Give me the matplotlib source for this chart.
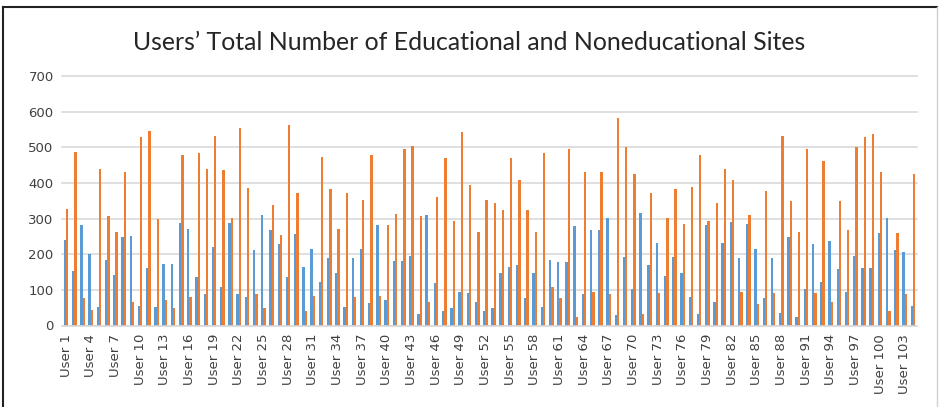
import numpy as np
import matplotlib
matplotlib.use('Agg')
import matplotlib.pyplot as plt
from matplotlib.lines import Line2D

# Educational (blue) and noneducational (orange) sites per user
educational = [240, 154, 282, 201, 51, 184, 142, 248, 251, 56,
               161, 51, 173, 173, 287, 270, 137, 88, 220, 107,
               287, 88, 79, 212, 309, 267, 228, 135, 256, 165,
               216, 122, 189, 146, 52, 189, 216, 64, 282, 72,
               180, 180, 196, 33, 309, 119, 41, 49, 95, 91,
               67, 41, 49, 146, 165, 169, 76, 146, 52, 185,
               177, 177, 279, 88, 267, 267, 302, 29, 193, 103,
               317, 169, 232, 138, 193, 146, 79, 33, 282, 67,
               232, 290, 189, 286, 216, 76, 189, 36, 248, 25,
               103, 228, 122, 236, 158, 95, 196, 162, 162, 259,
               302, 212, 205, 56]
noneducational = [327, 487, 76, 44, 440, 306, 263, 432, 67, 528,
                  545, 298, 72, 49, 478, 79, 485, 438, 532, 435,
                  301, 555, 387, 88, 49, 337, 255, 563, 372, 41,
                  83, 474, 384, 270, 372, 79, 352, 478, 83, 282,
                  313, 496, 505, 306, 67, 361, 469, 293, 544, 395,
                  263, 352, 345, 325, 469, 407, 325, 263, 485, 107,
                  76, 496, 25, 430, 95, 430, 88, 583, 501, 426,
                  33, 372, 91, 302, 384, 286, 388, 478, 293, 345,
                  438, 407, 95, 309, 60, 376, 91, 532, 349, 263,
                  496, 91, 462, 67, 349, 267, 501, 528, 536, 430,
                  41, 259, 88, 426]
users = ['User %d' % i for i in range(1, len(educational) + 1)]

x = np.arange(1, len(users) + 1)
w = 1 / 3.5

fig = plt.figure(figsize=(9.39, 4.07), dpi=100)
ax = fig.add_axes([62 / 939, 1 - 325.5 / 407, (917 - 62) / 939, (325.5 - 76) / 407])

ax.bar(x - w / 2, educational, width=w, color='#5B9BD5', zorder=3)
ax.bar(x + w / 2, noneducational, width=w, color='#ED7D31', zorder=3)

ax.set_xlim(0.5, len(users) + 0.5)
ax.set_ylim(0, 700)
ax.set_yticks(range(0, 701, 100))
ax.yaxis.grid(True, color='#D9D9D9', linewidth=1.2, zorder=0, clip_on=False)
for s in ax.spines.values():
    s.set_visible(False)
ax.axhline(0, color='#D9D9D9', linewidth=1.2, zorder=4)

ax.set_xticks(x[::3])
ax.set_xticklabels(users[::3], rotation=90, fontsize=9.5, color='#404040')
ax.tick_params(axis='both', length=0)
ax.tick_params(axis='x', pad=6)
ax.tick_params(axis='y', labelsize=9.5, labelcolor='#404040', pad=6)

fig.text(0.5, 1 - 42 / 407, 'Users’ Total Number of Educational and Noneducational Sites',
         ha='center', va='center', fontsize=17.9, color='#262626', family='Lato')

# chart frame
fig.add_artist(Line2D([3 / 939, 3 / 939], [0, 1 - 7 / 407], color='#222222', linewidth=1.5))
fig.add_artist(Line2D([3 / 939, 937 / 939], [1 - 7 / 407, 1 - 7 / 407], color='#222222', linewidth=1.5))
fig.add_artist(Line2D([937 / 939, 937 / 939], [0, 1 - 7 / 407], color='#D0D0D0', linewidth=1.0))

fig.savefig('out.png', dpi=100)
